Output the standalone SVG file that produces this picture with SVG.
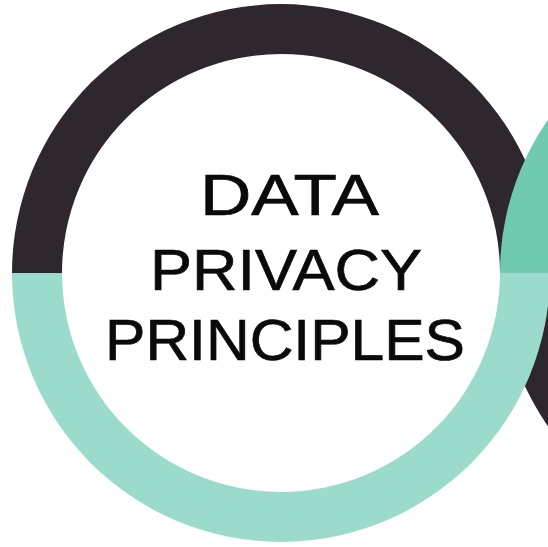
<svg xmlns="http://www.w3.org/2000/svg" width="548" height="547" viewBox="0 0 548 547">
  <style>
    .dark { fill: #2e272d; }
    .teal-light { fill: #9adbcc; }
    .teal-mid { fill: #70cab0; }
    .title { font-family: "Liberation Sans", Arial, sans-serif; font-size: 58px; fill: #0a0a0a; stroke: #0a0a0a; stroke-width: 0.7px; }
  </style>
  <rect x="0" y="0" width="548" height="547" fill="#ffffff"/>
  <g id="ring-main-top">
    <path class="dark" d="M 12 273 A 269 269 0 0 1 550 273 L 500 273 A 219 219 0 0 0 62 273 Z"/>
  </g>
  <g id="ring-next-bottom">
    <path class="dark" d="M 500 273 A 269 269 0 0 0 1038 273 L 988 273 A 219 219 0 0 1 550 273 Z"/>
  </g>
  <g id="ring-next-top">
    <path class="teal-mid" d="M 500 273 A 269 269 0 0 1 1038 273 L 988 273 A 219 219 0 0 0 550 273 Z"/>
  </g>
  <g id="ring-main-bottom">
    <path class="teal-light" d="M 12 273 A 269 269 0 0 0 550 273 L 500 273 A 219 219 0 0 1 62 273 Z"/>
  </g>
  <g id="title">
    <text class="title" x="200" y="215" textLength="179" lengthAdjust="spacingAndGlyphs">DATA</text>
    <text class="title" x="150" y="290" textLength="272" lengthAdjust="spacingAndGlyphs">PRIVACY</text>
    <text class="title" x="105" y="360" textLength="360" lengthAdjust="spacingAndGlyphs">PRINCIPLES</text>
  </g>
</svg>
